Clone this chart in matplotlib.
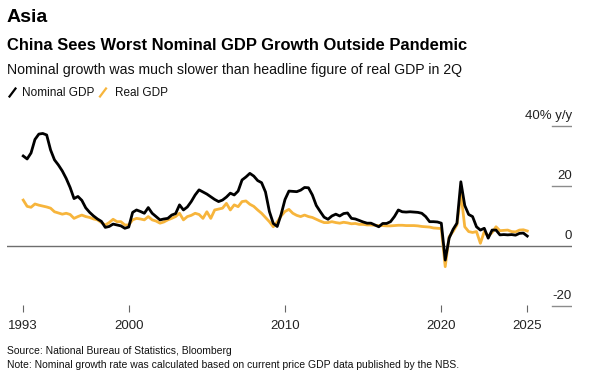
import matplotlib
matplotlib.use("Agg")
import matplotlib.pyplot as plt
import numpy as np
from matplotlib.lines import Line2D

plt.rcParams['font.family'] = ['Liberation Sans', 'DejaVu Sans']

# quarterly y/y growth, 1993Q1 .. 2025Q2 (one row per year)
nominal_gdp = [
    30.0, 29.0, 31.0, 35.5,   # 1993
    37.3, 37.5, 37.0, 32.0,   # 1994
    28.7, 27.0, 25.0, 22.5,   # 1995
    19.5, 15.8, 16.5, 15.2,   # 1996
    12.7, 11.2, 10.0, 9.0,    # 1997
    8.2, 6.2, 6.5, 7.3,       # 1998
    7.0, 6.7, 5.9, 6.3,       # 1999
    11.2, 12.0, 11.5, 10.9,   # 2000
    12.8, 10.9, 9.8, 8.7,     # 2001
    9.0, 9.2, 10.3, 10.8,     # 2002
    13.7, 12.0, 13.0, 14.8,   # 2003
    17.0, 18.7, 18.0, 17.3,   # 2004
    16.4, 15.5, 14.8, 15.3,   # 2005
    16.3, 17.6, 17.0, 18.3,   # 2006
    22.0, 23.0, 24.2, 23.3,   # 2007
    21.8, 21.1, 18.0, 11.5,   # 2008
    7.5, 6.5, 10.5, 15.5,     # 2009
    18.3, 18.2, 18.1, 18.6,   # 2010
    19.5, 19.4, 17.0, 13.5,   # 2011
    11.5, 9.6, 8.9, 10.0,     # 2012
    10.6, 10.0, 10.8, 11.0,   # 2013
    9.2, 9.0, 8.5, 8.0,       # 2014
    7.6, 7.6, 7.0, 6.4,       # 2015
    7.5, 7.5, 8.1, 9.8,       # 2016
    12.0, 11.4, 11.3, 11.4,   # 2017
    11.3, 11.2, 10.9, 9.8,    # 2018
    8.1, 8.1, 8.0, 7.6,       # 2019
    -4.7, 2.6, 5.5, 7.6,      # 2020
    21.4, 13.5, 10.5, 9.8,    # 2021
    6.4, 5.3, 5.9, 2.6,       # 2022
    5.3, 5.3, 3.7, 3.8,       # 2023
    3.7, 3.8, 3.6, 4.2,       # 2024
    4.3, 3.3,                 # 2025
]

real_gdp = [
    15.3, 13.2, 12.9, 14.0,   # 1993
    13.6, 13.3, 13.0, 12.6,   # 1994
    11.4, 11.0, 10.6, 10.9,   # 1995
    10.5, 9.2, 9.8, 10.3,     # 1996
    9.8, 9.5, 9.0, 8.7,       # 1997
    7.8, 7.0, 7.8, 8.9,       # 1998
    8.1, 8.1, 7.0, 7.0,       # 1999
    8.7, 9.2, 9.0, 8.7,       # 2000
    9.8, 8.7, 8.3, 7.6,       # 2001
    8.0, 8.7, 9.2, 9.8,       # 2002
    10.9, 8.7, 9.8, 10.2,     # 2003
    10.9, 10.5, 9.2, 11.4,    # 2004
    9.2, 12.0, 12.3, 12.6,    # 2005
    14.2, 12.0, 13.7, 13.1,   # 2006
    14.8, 15.0, 13.9, 13.2,   # 2007
    12.0, 10.9, 9.5, 8.1,     # 2008
    6.4, 8.0, 10.0, 11.5,     # 2009
    12.2, 10.9, 10.2, 9.8,    # 2010
    10.3, 9.8, 9.5, 8.9,      # 2011
    8.3, 7.8, 7.8, 8.1,       # 2012
    7.8, 7.6, 7.9, 7.7,       # 2013
    7.4, 7.5, 7.2, 7.2,       # 2014
    7.0, 7.0, 6.9, 6.8,       # 2015
    6.8, 6.7, 6.7, 6.8,       # 2016
    6.9, 6.9, 6.8, 6.8,       # 2017
    6.8, 6.7, 6.5, 6.4,       # 2018
    6.3, 6.0, 5.9, 5.8,       # 2019
    -6.9, 3.1, 4.8, 7.0,      # 2020
    17.6, 6.4, 4.8, 4.5,      # 2021
    4.8, 0.9, 4.8, 3.2,       # 2022
    4.5, 6.4, 5.1, 5.2,       # 2023
    5.3, 4.8, 4.7, 5.3,       # 2024
    5.4, 5.0,                 # 2025
]

start_year = 1993
x_ticks = [1993.25, 2000, 2010, 2020, 2025.5]
x_tick_labels = ['1993', '2000', '2010', '2020', '2025']
y_ticks = [-20, 0, 20, 40]
y_tick_labels = ['-20', '0', '20', '40% y/y']

# quarter-end positions
n = len(nominal_gdp)
t = start_year + (np.arange(n) + 1) / 4.0

black = '#000000'
orange = '#F7B53C'
grid_col = '#8c8c8c'

fig = plt.figure(figsize=(5.91, 3.89), dpi=100)
ax = fig.add_axes([0.0118, 0.198, 0.956, 0.4936])

ax.plot(t, real_gdp, color=orange, lw=2.0, solid_joinstyle='round', zorder=3)
ax.plot(t, nominal_gdp, color=black, lw=2.0, solid_joinstyle='round', zorder=4)

ax.set_xlim(1992.21, 2028.36)
ax.set_ylim(-22, 42)

# zero line across, short tick lines at right for the rest
ax.axhline(0, color='#6e6e6e', lw=1.0, zorder=2)
for yv, lab in zip(y_ticks, y_tick_labels):
    if yv != 0:
        ax.axhline(yv, xmin=0.9646, xmax=1.0, color=grid_col, lw=1.0)
    ax.annotate(lab, xy=(1.0, yv), xycoords=('axes fraction', 'data'),
                xytext=(0, 3), textcoords='offset points',
                ha='right', va='bottom', fontsize=9.5, color='#222222')

for s in ax.spines.values():
    s.set_visible(False)
ax.set_yticks([])
ax.set_xticks(x_ticks)
ax.set_xticklabels(x_tick_labels, fontsize=9.5, color='#222222')
ax.tick_params(axis='x', direction='in', length=5, width=0.8, color='#666666', pad=6)

# header
fig.text(0.0118, 1 - 17 / 389, 'Asia', fontsize=14, fontweight='bold', va='center')
fig.text(0.0118, 1 - 45 / 389, 'China Sees Worst Nominal GDP Growth Outside Pandemic',
         fontsize=11.9, fontweight='bold', va='center')
fig.text(0.0118, 1 - 70 / 389, 'Nominal growth was much slower than headline figure of real GDP in 2Q',
         fontsize=10.2, va='center', color='#111111')

# legend
leg_y = 1 - 92.5 / 389
fig.add_artist(Line2D([9.5 / 591, 15.5 / 591], [leg_y - 4 / 389, leg_y + 4 / 389],
                      color=black, lw=1.6))
fig.text(21.5 / 591, leg_y, 'Nominal GDP', fontsize=8.5, va='center', color='#111111')
fig.add_artist(Line2D([100 / 591, 106 / 591], [leg_y - 4 / 389, leg_y + 4 / 389],
                      color=orange, lw=1.6))
fig.text(115 / 591, leg_y, 'Real GDP', fontsize=8.5, va='center', color='#111111')

# footer
fig.text(0.0118, 1 - 351 / 389, 'Source: National Bureau of Statistics, Bloomberg',
         fontsize=7.45, va='center', color='#111111')
fig.text(0.0118, 1 - 365 / 389,
         'Note: Nominal growth rate was calculated based on current price GDP data published by the NBS.',
         fontsize=7.45, va='center', color='#111111')

fig.savefig('out.png', dpi=100)
